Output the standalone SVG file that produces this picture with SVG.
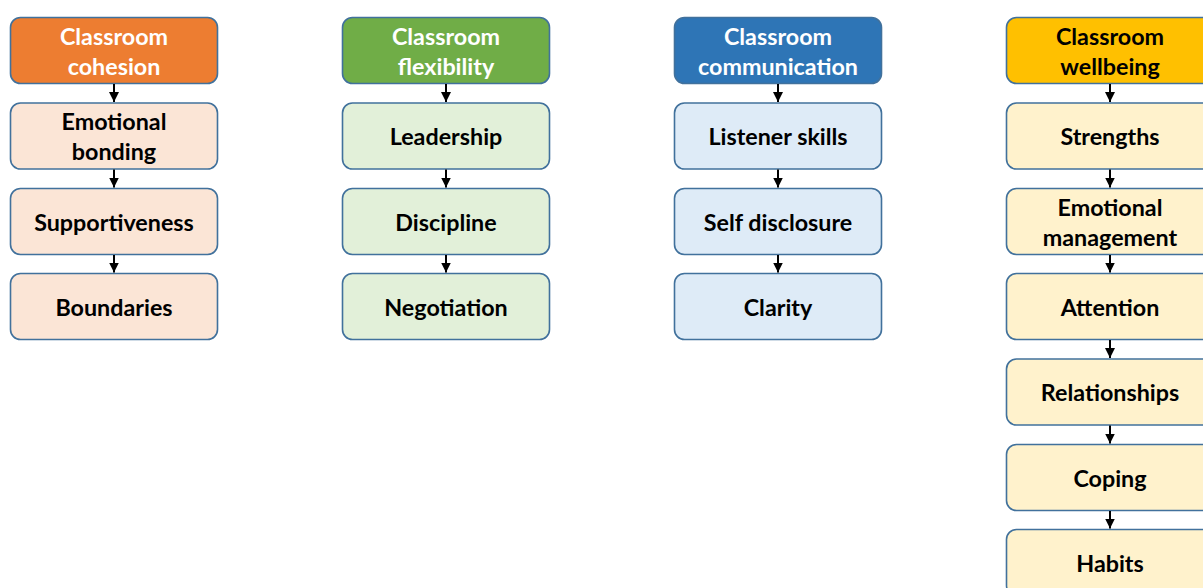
<svg xmlns="http://www.w3.org/2000/svg" width="1203" height="588" viewBox="0 0 1203 588">
  <defs>
    <marker id="arrow" viewBox="0 0 10 10" refX="10" refY="5" markerWidth="5" markerHeight="5" orient="auto" markerUnits="strokeWidth">
      <path d="M0,0 L10,5 L0,10 z" fill="#000"/>
    </marker>
    <style>
      .box { stroke: #41719C; stroke-width: 1.6; }
      .t { font-family: Lato, "Open Sans", sans-serif; font-weight: bold; font-size: 23.3px; text-anchor: middle; fill: #000; }
      .th { fill: #fff; }
      .orangeH { fill: #ED7D31; } .orange { fill: #FBE5D6; }
      .greenH { fill: #70AD47; } .green { fill: #E2F0D9; }
      .blueH { fill: #2E75B6; } .blue { fill: #DEEBF7; }
      .goldH { fill: #FFC000; } .gold { fill: #FFF2CC; }
      .conn line { stroke: #000; stroke-width: 2; marker-end: url(#arrow); }
    </style>
  </defs>

  <!-- Column 1: cohesion -->
  <g id="cohesion">
    <rect class="box orangeH" x="10.5" y="17.5" width="207" height="66" rx="10"/>
    <text class="t th" x="114" y="45">Classroom</text>
    <text class="t th" x="114" y="75">cohesion</text>
  </g>
  <g id="emotional-bonding">
    <rect class="box orange" x="10.5" y="103" width="207" height="66" rx="10"/>
    <text class="t" x="114" y="130">Emotional</text>
    <text class="t" x="114" y="160">bonding</text>
  </g>
  <g id="supportiveness">
    <rect class="box orange" x="10.5" y="188.5" width="207" height="66" rx="10"/>
    <text class="t" x="114" y="230.5">Supportiveness</text>
  </g>
  <g id="boundaries">
    <rect class="box orange" x="10.5" y="273.5" width="207" height="66" rx="10"/>
    <text class="t" x="114" y="315.5">Boundaries</text>
  </g>

  <!-- Column 2: flexibility -->
  <g id="flexibility">
    <rect class="box greenH" x="342.5" y="17.5" width="207" height="66" rx="10"/>
    <text class="t th" x="446" y="45">Classroom</text>
    <text class="t th" x="446" y="75">flexibility</text>
  </g>
  <g id="leadership">
    <rect class="box green" x="342.5" y="103" width="207" height="66" rx="10"/>
    <text class="t" x="446" y="145">Leadership</text>
  </g>
  <g id="discipline">
    <rect class="box green" x="342.5" y="188.5" width="207" height="66" rx="10"/>
    <text class="t" x="446" y="230.5">Discipline</text>
  </g>
  <g id="negotiation">
    <rect class="box green" x="342.5" y="273.5" width="207" height="66" rx="10"/>
    <text class="t" x="446" y="315.5">Negotiation</text>
  </g>

  <!-- Column 3: communication -->
  <g id="communication">
    <rect class="box blueH" x="674.5" y="17.5" width="207" height="66" rx="10"/>
    <text class="t th" x="778" y="45">Classroom</text>
    <text class="t th" x="778" y="75">communication</text>
  </g>
  <g id="listener-skills">
    <rect class="box blue" x="674.5" y="103" width="207" height="66" rx="10"/>
    <text class="t" x="778" y="145">Listener skills</text>
  </g>
  <g id="self-disclosure">
    <rect class="box blue" x="674.5" y="188.5" width="207" height="66" rx="10"/>
    <text class="t" x="778" y="230.5">Self disclosure</text>
  </g>
  <g id="clarity">
    <rect class="box blue" x="674.5" y="273.5" width="207" height="66" rx="10"/>
    <text class="t" x="778" y="315.5">Clarity</text>
  </g>

  <!-- Column 4: wellbeing -->
  <g id="wellbeing">
    <rect class="box goldH" x="1006.5" y="17.5" width="207" height="66" rx="10"/>
    <text class="t" x="1110" y="45">Classroom</text>
    <text class="t" x="1110" y="75">wellbeing</text>
  </g>
  <g id="strengths">
    <rect class="box gold" x="1006.5" y="103" width="207" height="66" rx="10"/>
    <text class="t" x="1110" y="145">Strengths</text>
  </g>
  <g id="emotional-management">
    <rect class="box gold" x="1006.5" y="188.5" width="207" height="66" rx="10"/>
    <text class="t" x="1110" y="215.5">Emotional</text>
    <text class="t" x="1110" y="245.5">management</text>
  </g>
  <g id="attention">
    <rect class="box gold" x="1006.5" y="273.5" width="207" height="66" rx="10"/>
    <text class="t" x="1110" y="315.5">Attention</text>
  </g>
  <g id="relationships">
    <rect class="box gold" x="1006.5" y="359" width="207" height="66" rx="10"/>
    <text class="t" x="1110" y="401">Relationships</text>
  </g>
  <g id="coping">
    <rect class="box gold" x="1006.5" y="444.5" width="207" height="66" rx="10"/>
    <text class="t" x="1110" y="486.5">Coping</text>
  </g>
  <g id="habits">
    <rect class="box gold" x="1006.5" y="529.5" width="207" height="66" rx="10"/>
    <text class="t" x="1110" y="571.5">Habits</text>
  </g>

  <!-- Connectors -->
  <g class="conn" id="connectors">
    <line x1="114" y1="84" x2="114" y2="102"/>
    <line x1="114" y1="169.5" x2="114" y2="187.5"/>
    <line x1="114" y1="255" x2="114" y2="272.5"/>

    <line x1="446" y1="84" x2="446" y2="102"/>
    <line x1="446" y1="169.5" x2="446" y2="187.5"/>
    <line x1="446" y1="255" x2="446" y2="272.5"/>

    <line x1="778" y1="84" x2="778" y2="102"/>
    <line x1="778" y1="169.5" x2="778" y2="187.5"/>
    <line x1="778" y1="255" x2="778" y2="272.5"/>

    <line x1="1110" y1="84" x2="1110" y2="102"/>
    <line x1="1110" y1="169.5" x2="1110" y2="187.5"/>
    <line x1="1110" y1="255" x2="1110" y2="272.5"/>
    <line x1="1110" y1="340" x2="1110" y2="358"/>
    <line x1="1110" y1="425.5" x2="1110" y2="443.5"/>
    <line x1="1110" y1="511" x2="1110" y2="528.5"/>
  </g>
</svg>
